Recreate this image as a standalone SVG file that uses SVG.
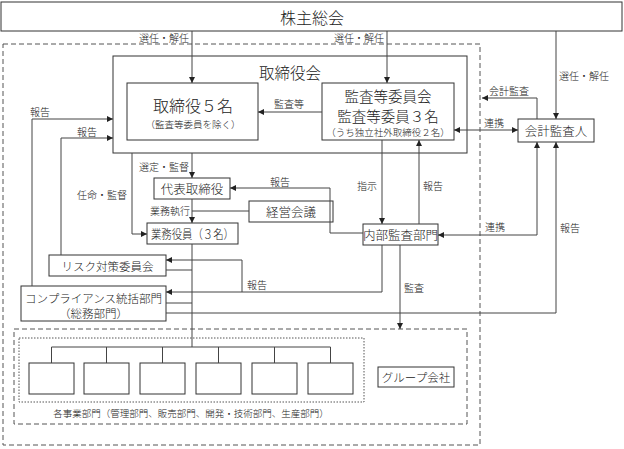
<svg xmlns="http://www.w3.org/2000/svg" width="624" height="449" viewBox="0 0 624 449">
<style>
text{font-family:"Noto Sans CJK JP","Noto Sans CJK SC",sans-serif;fill:#222;dominant-baseline:central;text-anchor:middle;font-weight:300}
.box{fill:#fff;stroke:#333;stroke-width:1}
.ln{fill:none;stroke:#444;stroke-width:1}
.lb{font-size:10px}
.n{font-size:12.5px}
.s{font-size:11.5px}
.dash{fill:none;stroke:#555;stroke-width:1;stroke-dasharray:5 3}
.dot{fill:none;stroke:#555;stroke-width:1;stroke-dasharray:1.5 1.5}
</style>
<defs>
<marker id="a" viewBox="0 0 6 6" refX="6" refY="3" markerWidth="6" markerHeight="6" markerUnits="userSpaceOnUse" orient="auto-start-reverse">
<path d="M0,0 L6,3 L0,6 z" fill="#222"/>
</marker>
</defs>
<rect class="dash" x="3" y="44" width="477" height="401"/>
<g id="shareholders"><rect class="box" x="1" y="2" width="621" height="29"/><text x="312" y="17" style="font-size:16px">株主総会</text></g>
<g id="board"><rect class="box" x="113" y="56" width="354" height="97"/><text x="290" y="72" style="font-size:15.5px">取締役会</text></g>
<g id="directors"><rect class="box" x="127" y="83" width="131" height="57"/><text x="193" y="105" style="font-size:16px">取締役５名</text><text x="193" y="124" style="font-size:9.5px">（監査等委員を除く）</text></g>
<g id="audit-committee"><rect class="box" x="322" y="83" width="132" height="57"/><text x="388" y="95.5" style="font-size:14.5px">監査等委員会</text><text x="388" y="115" style="font-size:14.5px">監査等委員３名</text><text x="388" y="131.5" style="font-size:9.5px">（うち独立社外取締役２名）</text></g>
<g id="accounting-auditor"><rect class="box" x="518" y="119" width="76" height="23"/><text class="n" x="556" y="130">会計監査人</text></g>
<g id="ceo"><rect class="box" x="154" y="178" width="76" height="21"/><text class="n" x="192" y="188.5">代表取締役</text></g>
<g id="management-meeting"><rect class="box" x="249" y="201" width="84" height="21"/><text class="n" x="291" y="211.5">経営会議</text></g>
<g id="executives"><rect class="box" x="147" y="223" width="91" height="21"/><text class="n" x="192.5" y="233.5" textLength="83" lengthAdjust="spacingAndGlyphs">業務役員（３名）</text></g>
<g id="internal-audit"><rect class="box" x="363" y="224" width="75" height="21"/><text class="n" x="400.5" y="234.5">内部監査部門</text></g>
<g id="risk-committee"><rect class="box" x="49" y="255" width="117" height="21"/><text class="s" x="107.5" y="265.5">リスク対策委員会</text></g>
<g id="compliance"><rect class="box" x="21" y="286" width="145" height="35"/><text class="s" x="93.5" y="297.5">コンプライアンス統括部門</text><text class="s" x="93.5" y="313">（総務部門）</text></g>
<g id="group">
<rect class="dash" x="14" y="329" width="453" height="95"/>
<rect class="dot" x="19" y="338" width="345" height="64"/>
<rect class="box" x="29" y="363" width="45" height="31"/>
<rect class="box" x="84" y="363" width="45" height="31"/>
<rect class="box" x="140" y="363" width="45" height="31"/>
<rect class="box" x="196" y="363" width="45" height="31"/>
<rect class="box" x="252" y="363" width="45" height="31"/>
<rect class="box" x="308" y="363" width="45" height="31"/>
<rect class="box" x="378" y="367" width="76" height="20"/><text class="s" x="416" y="377">グループ会社</text>
<text x="191" y="413" style="font-size:9.5px">各事業部門（管理部門、販売部門、開発・技術部門、生産部門）</text>
</g>
<g id="connectors">
<path class="ln" d="M192,31V83" marker-end="url(#a)"/>
<path class="ln" d="M387,31V83" marker-end="url(#a)"/>
<path class="ln" d="M556,31V119" marker-end="url(#a)"/>
<path class="ln" d="M537,119V98H482" marker-end="url(#a)"/>
<path class="ln" d="M454,130H518" marker-start="url(#a)" marker-end="url(#a)"/>
<path class="ln" d="M322,112H258" marker-end="url(#a)"/>
<path class="ln" d="M32,286V119H113" marker-end="url(#a)"/>
<path class="ln" d="M61,255V138H113" marker-end="url(#a)"/>
<path class="ln" d="M192,153V178" marker-end="url(#a)"/>
<path class="ln" d="M132,153V234H147" marker-end="url(#a)"/>
<path class="ln" d="M192,199V223" marker-end="url(#a)"/>
<path class="ln" d="M249,211H192"/>
<path class="ln" d="M363,233H330V188H230" marker-end="url(#a)"/>
<path class="ln" d="M382,140V224" marker-end="url(#a)"/>
<path class="ln" d="M419,224V140" marker-end="url(#a)"/>
<path class="ln" d="M438,235H537V142" marker-start="url(#a)" marker-end="url(#a)"/>
<path class="ln" d="M166,313H556V142" marker-end="url(#a)"/>
<path class="ln" d="M400,245V329" marker-end="url(#a)"/>
<path class="ln" d="M382,245V292H166" marker-end="url(#a)"/>
<path class="ln" d="M242,292V260H166" marker-end="url(#a)"/>
<path class="ln" d="M166,270H192M166,303H192"/>
<path class="ln" d="M192,244V347M51.5,347H330.5M51.5,347V363M106.5,347V363M162.5,347V363M218.5,347V363M274.5,347V363M330.5,347V363"/>
<text class="lb" x="189" y="37" style="text-anchor:end">選任・解任</text>
<text class="lb" x="384" y="37" style="text-anchor:end">選任・解任</text>
<text class="lb" x="559" y="75" style="text-anchor:start">選任・解任</text>
<text class="lb" x="489" y="90" style="text-anchor:start">会計監査</text>
<text class="lb" x="484" y="122" style="text-anchor:start">連携</text>
<text class="lb" x="289" y="103">監査等</text>
<text class="lb" x="40" y="111">報告</text>
<text class="lb" x="87" y="131">報告</text>
<text class="lb" x="164" y="166">選定・監督</text>
<text class="lb" x="102" y="194">任命・監督</text>
<text class="lb" x="170" y="210">業務執行</text>
<text class="lb" x="280" y="181">報告</text>
<text class="lb" x="377" y="185" style="text-anchor:end">指示</text>
<text class="lb" x="423" y="185" style="text-anchor:start">報告</text>
<text class="lb" x="485" y="226" style="text-anchor:start">連携</text>
<text class="lb" x="560" y="227" style="text-anchor:start">報告</text>
<text class="lb" x="404" y="287" style="text-anchor:start">監査</text>
<text class="lb" x="247" y="284" style="text-anchor:start">報告</text>
</g>
</svg>
